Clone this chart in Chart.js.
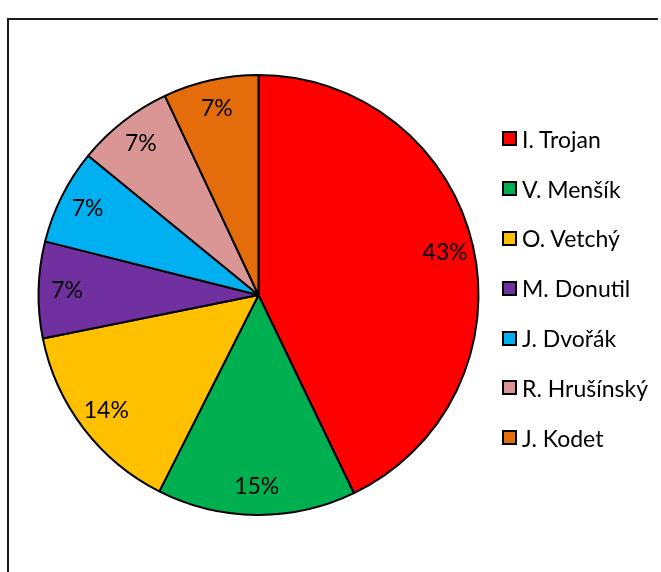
<!DOCTYPE html>
<html>
<head>
<meta charset="utf-8">
<script src="https://cdn.jsdelivr.net/npm/chart.js@4/dist/chart.umd.min.js"></script>
<style>
    html, body { margin: 0; padding: 0; background: #fff; }
    body { width: 661px; height: 572px; position: relative; overflow: hidden; font-family: Lato, "Open Sans", sans-serif; }
    #frame { position: absolute; left: 7px; top: 18px; width: 649px; height: 600px; border-top: 2px solid #1a1a1a; border-left: 2px solid #1a1a1a; }
    #wrap { position: absolute; left: 0; top: 0; width: 661px; height: 572px; }
    #legend { position: absolute; left: 502px; top: 114px; margin: 0; padding: 0; list-style: none; }
    #legend li { height: 49.8px; display: flex; align-items: center; font-size: 23px; color: #000; white-space: nowrap; }
    #legend .box { width: 11px; height: 11px; border: 2px solid #000; margin-right: 5px; }
</style>
</head>
<body>
<div id="frame"></div>
<div id="wrap"><canvas id="pie" width="661" height="572"></canvas></div>
<ul id="legend"></ul>
<script>
// Données du graphique (parts estimées à partir des angles)
const labels = ['I. Trojan', 'V. Menšík', 'O. Vetchý', 'M. Donutil', 'J. Dvořák', 'R. Hrušínský', 'J. Kodet'];
const values = [42.9, 14.6, 14.4, 7.1, 7.0, 7.1, 7.0];
const colors = ['#FF0000', '#00B050', '#FFC000', '#7030A0', '#00B0F0', '#D99694', '#E46C0A'];

// Étiquettes de pourcentage dans les parts
const percentLabels = {
    id: 'percentLabels',
    afterDatasetsDraw(chart) {
        const ctx = chart.ctx;
        const meta = chart.getDatasetMeta(0);
        const total = values.reduce((a, b) => a + b, 0);
        ctx.save();
        ctx.font = '23px Lato, "Open Sans", sans-serif';
        ctx.fillStyle = '#000';
        ctx.textAlign = 'center';
        ctx.textBaseline = 'middle';
        meta.data.forEach((arc, i) => {
            const mid = (arc.startAngle + arc.endAngle) / 2;
            const r = arc.outerRadius * 0.87;
            const x = arc.x + Math.cos(mid) * r;
            const y = arc.y + Math.sin(mid) * r;
            ctx.fillText(Math.round(values[i] / total * 100) + '%', x, y);
        });
        ctx.restore();
    }
};

new Chart(document.getElementById('pie').getContext('2d'), {
    type: 'pie',
    data: {
        labels: labels,
        datasets: [{
            data: values,
            backgroundColor: colors,
            borderColor: '#000',
            borderWidth: 2,
            hoverOffset: 0
        }]
    },
    options: {
        responsive: false,
        animation: false,
        radius: 220,
        layout: { padding: { left: 38, right: 182, top: 75, bottom: 57 } },
        plugins: {
            legend: { display: false },
            tooltip: { enabled: false }
        }
    },
    plugins: [percentLabels]
});

// Légende construite à partir des mêmes tableaux
const legend = document.getElementById('legend');
labels.forEach((label, i) => {
    const li = document.createElement('li');
    const box = document.createElement('span');
    box.className = 'box';
    box.style.background = colors[i];
    li.appendChild(box);
    li.appendChild(document.createTextNode(label));
    legend.appendChild(li);
});
</script>
</body>
</html>
